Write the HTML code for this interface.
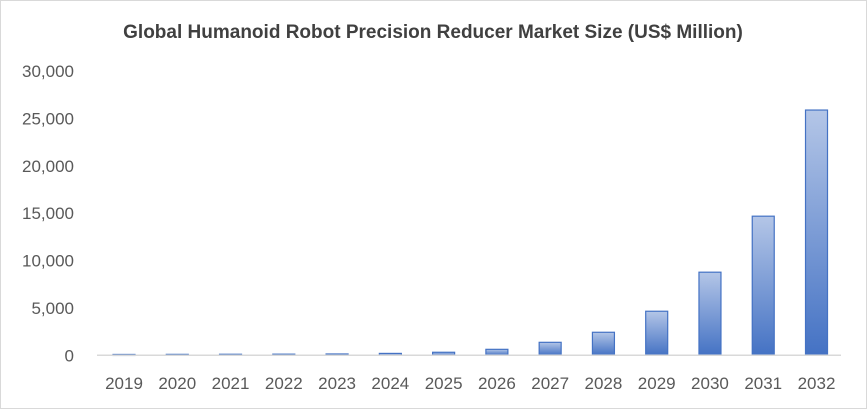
<!DOCTYPE html>
<html><head><meta charset="utf-8"><style>
body{margin:0;background:#fff;}
svg{display:block;font-family:"Liberation Sans",Calibri,sans-serif;}
</style></head><body>
<svg id="chart" width="867" height="409" viewBox="0 0 867 409">
<defs><linearGradient id="g" x1="0" y1="0" x2="0" y2="1"><stop offset="0" stop-color="#b4c6e7"/><stop offset="1" stop-color="#4472c4"/></linearGradient></defs>
<rect x="0.5" y="0.5" width="866" height="408" fill="#fff" stroke="#d9d9d9"/>
<text x="433" y="38" text-anchor="middle" font-size="19" font-weight="bold" fill="#404040">Global Humanoid Robot Precision Reducer Market Size (US$ Million)</text>
<g id="yaxis"></g><g id="bars"></g><g id="xaxis"></g>
</svg>
<script>
const categories=["2019","2020","2021","2022","2023","2024","2025","2026","2027","2028","2029","2030","2031","2032"];
const values=[90,100,110,120,140,200,320,630,1370,2430,4650,8770,14680,25880];
const yTicks=[0,5000,10000,15000,20000,25000,30000];
const yTickLabels=["0","5,000","10,000","15,000","20,000","25,000","30,000"];
const NS="http://www.w3.org/2000/svg";
const y0=355.3,y1=71,vmax=30000;
function yScale(v){return y0-(v/vmax)*(y0-y1);}
const step=53.27,x0=124;
function xScale(i){return x0+i*step;}
function mk(t,a,p){const e=document.createElementNS(NS,t);for(const k in a)e.setAttribute(k,a[k]);p.appendChild(e);return e;}
const ya=document.getElementById('yaxis');
yTicks.forEach((v,i)=>{
 const t=mk('text',{x:74,y:yScale(v)+6,'text-anchor':'end','font-size':17,fill:'#595959'},ya);
 
 
 t.textContent=yTickLabels[i];
});
const bg=document.getElementById('bars');
values.forEach((v,i)=>{
 const y=yScale(v);
 const r=mk('rect',{x:xScale(i)-11,y:y,width:22,height:Math.max(y0-y,1),fill:'url(#g)',stroke:'#4472c4','stroke-width':1.2},bg);
 
 
});
const xa=document.getElementById('xaxis');
const ax=mk('line',{x1:97,x2:841,y1:y0,y2:y0,stroke:'#d9d9d9','stroke-width':1.5},xa);


categories.forEach((c,i)=>{
 const t=mk('text',{x:xScale(i),y:389,'text-anchor':'middle','font-size':17,fill:'#595959'},xa);
 
 
 t.textContent=c;
});
</script>
</body></html>
